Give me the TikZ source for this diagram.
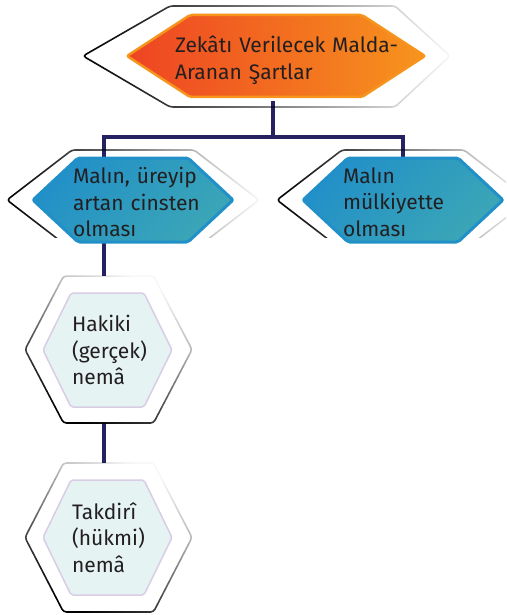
\documentclass[tikz,border=0pt]{standalone}
\usepackage{fontspec}
\setmainfont{Fira Sans}
\usetikzlibrary{positioning,calc,backgrounds,fadings}
\definecolor{navy}{HTML}{262262}
\definecolor{ink}{HTML}{231F20}
\definecolor{orangeL}{HTML}{EE4423}
\definecolor{orangeR}{HTML}{F7941D}
\definecolor{blueA}{HTML}{2290C8}
\definecolor{blueB}{HTML}{3BA6B6}
\definecolor{paleFill}{HTML}{E6F3F3}
\definecolor{paleLine}{HTML}{D9CDE6}
\pgfdeclarelayer{links}
\pgfsetlayers{links,background,main}
\tikzfading[name=fadeR, left color=transparent!0, middle color=transparent!15,
  right color=transparent!97]
\hyphenpenalty=10000
\exhyphenpenalty=10000

% hexagon from its centre: cx, cy, half width at the tips, half width at the corners, half height
\newcommand\hexat[6][]{%
  \path[#1] (#2-#4,#3) -- (#2-#5,#3-#6) -- (#2+#5,#3-#6) -- (#2+#4,#3)
    -- (#2+#5,#3+#6) -- (#2-#5,#3+#6) -- cycle;}

\begin{document}
\begin{tikzpicture}[x=1pt, y=-1pt,
  txt/.style={inner sep=0pt, align=left, text=ink,
    font=\fontsize{21}{26.5}\selectfont},
  hexbig/.style={txt, minimum width=298pt, minimum height=82pt, text width=202pt},
  hexmid/.style={txt, minimum width=200pt, minimum height=84pt, text width=120pt},
  hexsmall/.style={txt, minimum width=129pt, minimum height=114pt, text width=71pt},
  shell/.style={draw=black, line width=1.6pt, rounded corners=3pt, path fading=fadeR},
  hole/.style={fill=white, rounded corners=3pt},
  orangefill/.style={left color=orangeL, right color=orangeR, draw=orangeR,
    line width=2.5pt, rounded corners=2pt},
  bluefill/.style={left color=blueA, right color=blueB, shading angle=45,
    draw=blueA, line width=3pt, rounded corners=2pt},
  palefill/.style={fill=paleFill, draw=paleLine, line width=1.5pt, rounded corners=2pt},
  link/.style={draw=navy, line width=4.5pt}
]
\useasboundingbox (0,0) rectangle (506,615);

% Nodes
\node[hexbig] (zekat) at (276,60) {Zekâtı~Verilecek~Malda-\\Aranan~Şartlar};
\node[hexmid] (ureme) at (133,202) {Malın,~üreyip\\artan~cinsten\\olması};
\node[hexmid] (mulk) at (403,202) {Malın\\mülkiyette\\olması};
\node[hexsmall] (hakiki) at (107.5,350) {Hakiki\\(gerçek)\\nemâ};
\node[hexsmall] (takdiri) at (107.5,537.5) {Takdirî\\(hükmi)\\nemâ};

% Shapes
\begin{scope}[on background layer]
  \path[shell] (83,56) -- (170,6) -- (395,6) -- (450,56) -- (395,107) -- (170,107) -- cycle;
  \begin{scope}
    \clip (0,0) rectangle (506,237);
    \hexat[shell]{133}{200}{126}{61}{50}
    \hexat[shell]{403}{200}{126}{61}{50}
  \end{scope}
  \hexat[hole]{108.5}{349.5}{83.5}{45}{73.5}
  \hexat[shell, fading angle=60]{108.5}{349.5}{83.5}{45}{73.5}
  \hexat[hole]{108.5}{537.5}{83.5}{45}{74.5}
  \hexat[shell, fading angle=60]{108.5}{537.5}{83.5}{45}{74.5}
  \hexat[orangefill]{276}{56}{149}{86}{41}
  \hexat[bluefill]{133}{200}{100}{55}{42}
  \hexat[bluefill]{403}{200}{100}{55}{42}
  \hexat[palefill]{107.5}{350}{64.5}{36.5}{57}
  \hexat[palefill]{107.5}{537.5}{64.5}{36.5}{57.5}
\end{scope}

% Edges
\begin{pgfonlayer}{links}
  \coordinate (trunk) at (104,137);
  \draw[link] ([xshift=-3pt]zekat.south) |- (trunk) -- (trunk |- takdiri.north);
  \draw[link] (trunk) -| (mulk.north);
\end{pgfonlayer}

\end{tikzpicture}
\end{document}
